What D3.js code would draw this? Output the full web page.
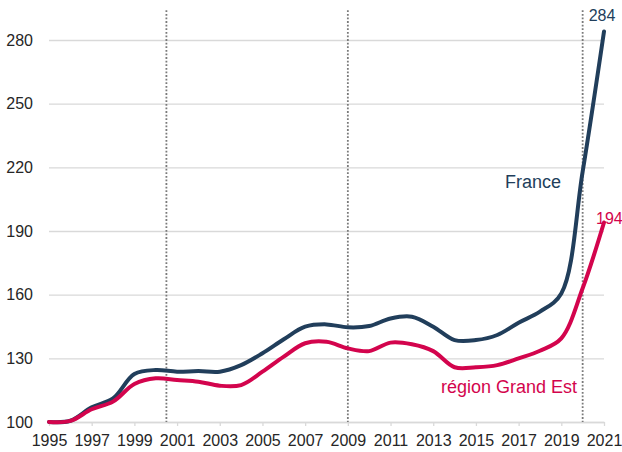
<!DOCTYPE html>
<html>
<head>
<meta charset="utf-8">
<script src="https://cdn.jsdelivr.net/npm/d3@7"></script>
<style>
  body { margin: 0; background: #fff; }
  svg { display: block; font-family: "Liberation Sans", Arial, sans-serif; }
  .axis text { font-size: 16px; fill: #262626; }
  .grid line { stroke: #d9d9d9; stroke-width: 1.3; }
  .x-axis path, .x-axis line { stroke: #d9d9d9; stroke-width: 1.3; }
</style>
</head>
<body>
<div id="vis"></div>
<script>
// data (index, base 100 in 1995)
var years = d3.range(1995, 2022);
var france = [100, 100.6, 106.9, 111.1, 122.6, 124.5, 123.7, 124.0, 123.7, 126.8,
              132.4, 139.0, 144.9, 146.0, 144.6, 145.2, 148.8, 149.6, 144.9, 138.6,
              138.6, 141.0, 146.8, 152.0, 160.6, 218, 284];
var grandEst = [100, 100.5, 106.0, 109.6, 117.9, 120.6, 119.8, 119.0, 117.1, 117.4,
                123.7, 130.8, 137.1, 137.8, 134.7, 133.4, 137.4, 136.6, 133.4, 125.8,
                125.8, 126.8, 130.0, 133.6, 139.4, 163, 194];
var yTicks = [100, 130, 160, 190, 220, 250, 280];
var xTicks = d3.range(1995, 2022, 2);
var markerYears = [2000.5, 2009, 2020];

var width = 622;
var height = 452;

var svg = d3.select('#vis')
            .append('svg')
            .attr('width', width)
            .attr('height', height);

var xScale = d3.scaleLinear().domain([1995, 2021]).range([49, 604]);
var yScale = d3.scaleLinear().domain([100, 280]).range([422, 40]);

// gridlines + y labels
var yAxis = d3.axisLeft(yScale)
              .tickValues(yTicks)
              .tickSize(-(604 - 49))
              .tickPadding(16);
svg.append('g')
   .attr('class', 'axis grid')
   .attr('transform', 'translate(49, 0)')
   .call(yAxis)
   .call(function(g) { g.select('.domain').remove(); });

// x axis
var xAxis = d3.axisBottom(xScale)
              .tickValues(xTicks)
              .tickFormat(d3.format('d'))
              .tickSizeInner(4)
              .tickSizeOuter(0)
              .tickPadding(9);
svg.append('g')
   .attr('class', 'axis x-axis')
   .attr('transform', 'translate(0, ' + yScale(100) + ')')
   .call(xAxis);

// dotted markers
svg.selectAll('.marker')
   .data(markerYears)
   .enter()
   .append('line')
   .attr('class', 'marker')
   .attr('x1', function(d) { return xScale(d); })
   .attr('x2', function(d) { return xScale(d); })
   .attr('y1', yScale(294))
   .attr('y2', yScale(100))
   .attr('stroke', '#7a7a7a')
   .attr('stroke-width', 1.8)
   .attr('stroke-dasharray', '1.8,1.8');

var line = d3.line()
             .x(function(d, i) { return xScale(years[i]); })
             .y(function(d) { return yScale(d); })
             .curve(d3.curveCatmullRom.alpha(0.5));

var series = [
    { name: 'France', values: france, color: '#213e5b' },
    { name: 'région Grand Est', values: grandEst, color: '#d3044d' }
];

svg.selectAll('.series')
   .data(series)
   .enter()
   .append('path')
   .attr('class', 'series')
   .attr('d', function(d) { return line(d.values); })
   .attr('fill', 'none')
   .attr('stroke', function(d) { return d.color; })
   .attr('stroke-width', 4)
   .attr('stroke-linejoin', 'round')
   .attr('stroke-linecap', 'round');

// end values
svg.append('text')
   .attr('x', xScale(2021) - 2)
   .attr('y', yScale(france[france.length - 1]) - 10.5)
   .attr('text-anchor', 'middle')
   .style('font-size', '16px')
   .attr('fill', series[0].color)
   .text(france[france.length - 1]);

svg.append('text')
   .attr('x', xScale(2021) - 8)
   .attr('y', yScale(grandEst[grandEst.length - 1]) + 1)
   .attr('text-anchor', 'start')
   .style('font-size', '16px')
   .attr('fill', series[1].color)
   .text(grandEst[grandEst.length - 1]);

// series names
svg.append('text')
   .attr('x', 561)
   .attr('y', 187.5)
   .attr('text-anchor', 'end')
   .style('font-size', '18px')
   .attr('fill', series[0].color)
   .text(series[0].name);

svg.append('text')
   .attr('x', 577)
   .attr('y', 393)
   .attr('text-anchor', 'end')
   .style('font-size', '18px')
   .attr('fill', series[1].color)
   .text(series[1].name);
</script>
</body>
</html>
